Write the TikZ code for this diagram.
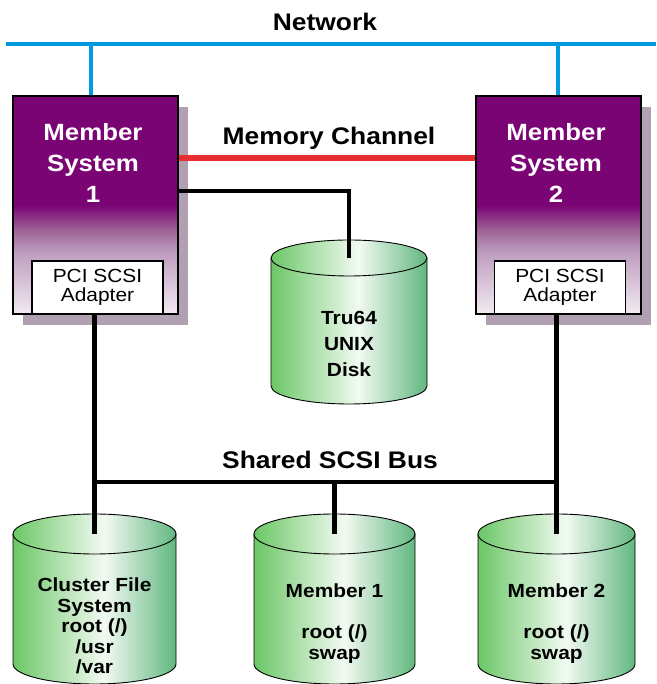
\documentclass[tikz,border=0pt]{standalone}
\usepackage{fontspec}
\setmainfont{Liberation Sans}[FakeStretch=1.1]
\usetikzlibrary{shadows}
\definecolor{netblue}{RGB}{0,154,222}
\definecolor{memred}{RGB}{230,45,50}
\definecolor{boxshadow}{RGB}{176,160,178}
\pgfdeclareverticalshading{memberfade}{100bp}{rgb(0bp)=(0.95,0.92,0.95); rgb(25bp)=(0.95,0.92,0.95); rgb(39bp)=(0.75,0.62,0.75); rgb(44bp)=(0.63,0.40,0.60); rgb(50bp)=(0.482,0.016,0.455); rgb(100bp)=(0.482,0.016,0.455)}
\pgfdeclarehorizontalshading{diskgreen}{100bp}{rgb(0bp)=(0.42,0.78,0.40); rgb(25bp)=(0.42,0.78,0.40); rgb(53bp)=(0.95,0.98,0.95); rgb(75bp)=(0.38,0.72,0.50); rgb(100bp)=(0.38,0.72,0.50)}
\newcommand{\drawdisk}[6]{%
  \shadedraw[shading=diskgreen,line width=0.9pt] (#2-#3,#4) -- (#2-#3,#5)
    arc[start angle=180,end angle=360,x radius=#3,y radius=#6]
    -- (#2+#3,#4)
    arc[start angle=0,end angle=180,x radius=#3,y radius=#6] -- cycle;
  \draw[line width=0.9pt] (#2-#3,#4) arc[start angle=180,end angle=360,x radius=#3,y radius=#6];
  \coordinate (#1) at (#2,#4);
}

\begin{document}
\begin{tikzpicture}[x=1pt,y=1pt]
  \tikzset{
    netline/.style={netblue,line width=4.5pt},
    memline/.style={memred,line width=6pt},
    busline/.style={black,line width=4.5pt},
    member/.style={draw,line width=1.8pt,shade,shading=memberfade,minimum width=165pt,minimum height=218pt,inner sep=0pt,
      drop shadow={shadow xshift=10pt,shadow yshift=-11pt,fill=boxshadow,opacity=1}},
    adapter/.style={draw,fill=white,line width=1.8pt,minimum width=131pt,minimum height=53pt,inner sep=0pt,align=center,font=\fontsize{19}{19.5}\selectfont},
    headline/.style={font=\fontsize{24}{29}\selectfont\bfseries},
    boxtext/.style={text=white,align=center,font=\fontsize{23.5}{31}\selectfont\bfseries},
    disktext/.style={align=center,font=\fontsize{19}{20.5}\selectfont\bfseries}
  }
  \useasboundingbox (0,0) rectangle (656,684);
  % disks
  \drawdisk{tru}{349}{78}{426}{298}{18}
  \drawdisk{cfs}{94.5}{81.5}{150}{20}{20}
  \drawdisk{mone}{334.5}{80.5}{150}{20}{20}
  \drawdisk{mtwo}{556.5}{78.5}{150}{20}{20}
  \node[disktext,font=\fontsize{19}{26}\selectfont\bfseries] (trutxt) at (349,340) {Tru64\\UNIX\\Disk};
  \node[disktext] (cfstxt) at (94.5,58) {Cluster File\\System\\root (/)\\/usr\\/var};
  \node[disktext] (monetxt) at (334.5,60.5) {Member 1\\[20.5pt]root (/)\\swap};
  \node[disktext] (mtwotxt) at (556.5,60.5) {Member 2\\[20.5pt]root (/)\\swap};
  % member systems
  \node[member] (ms1) at (95.5,479) {};
  \node[member] (ms2) at (558.5,479) {};
  \node[boxtext] (ms1txt) at (93,521) {Member\\System\\1};
  \node[boxtext] (ms2txt) at (556,521) {Member\\System\\2};
  \node[adapter] (ad1) at (97.5,396.5) {PCI SCSI\\Adapter};
  \node[adapter] (ad2) at (560,396.5) {PCI SCSI\\Adapter};
  % labels
  \node[headline] (net) at (325,662) {Network};
  \node[headline] (mc) at (329,546) {Memory Channel};
  \node[headline] (bus) at (330,224) {Shared SCSI Bus};
  % network
  \coordinate (netL) at (6,640);
  \coordinate (netR) at (656,640);
  \coordinate (tap1) at (91,640);
  \coordinate (tap2) at (558,640);
  \draw[netline] (netL) -- (netR);
  \draw[netline] (tap1) -- (tap1 |- ms1.north);
  \draw[netline] (tap2) -- (tap2 |- ms2.north);
  % memory channel
  \coordinate (mcl) at (329,526);
  \draw[memline] (mcl -| ms1.east) -- (mcl -| ms2.west);
  % scsi
  \coordinate (trul) at (0,493);
  \coordinate (busl) at (0,202);
  \draw[busline] (trul -| ms1.east) -| (tru);
  \draw[busline] (busl -| cfs) -- (busl -| mtwo);
  \draw[busline] (ad1.south -| cfs) -- (cfs);
  \draw[busline] (ad2.south -| mtwo) -- (mtwo);
  \draw[busline] (busl -| mone) -- (mone);
\end{tikzpicture}
\end{document}
